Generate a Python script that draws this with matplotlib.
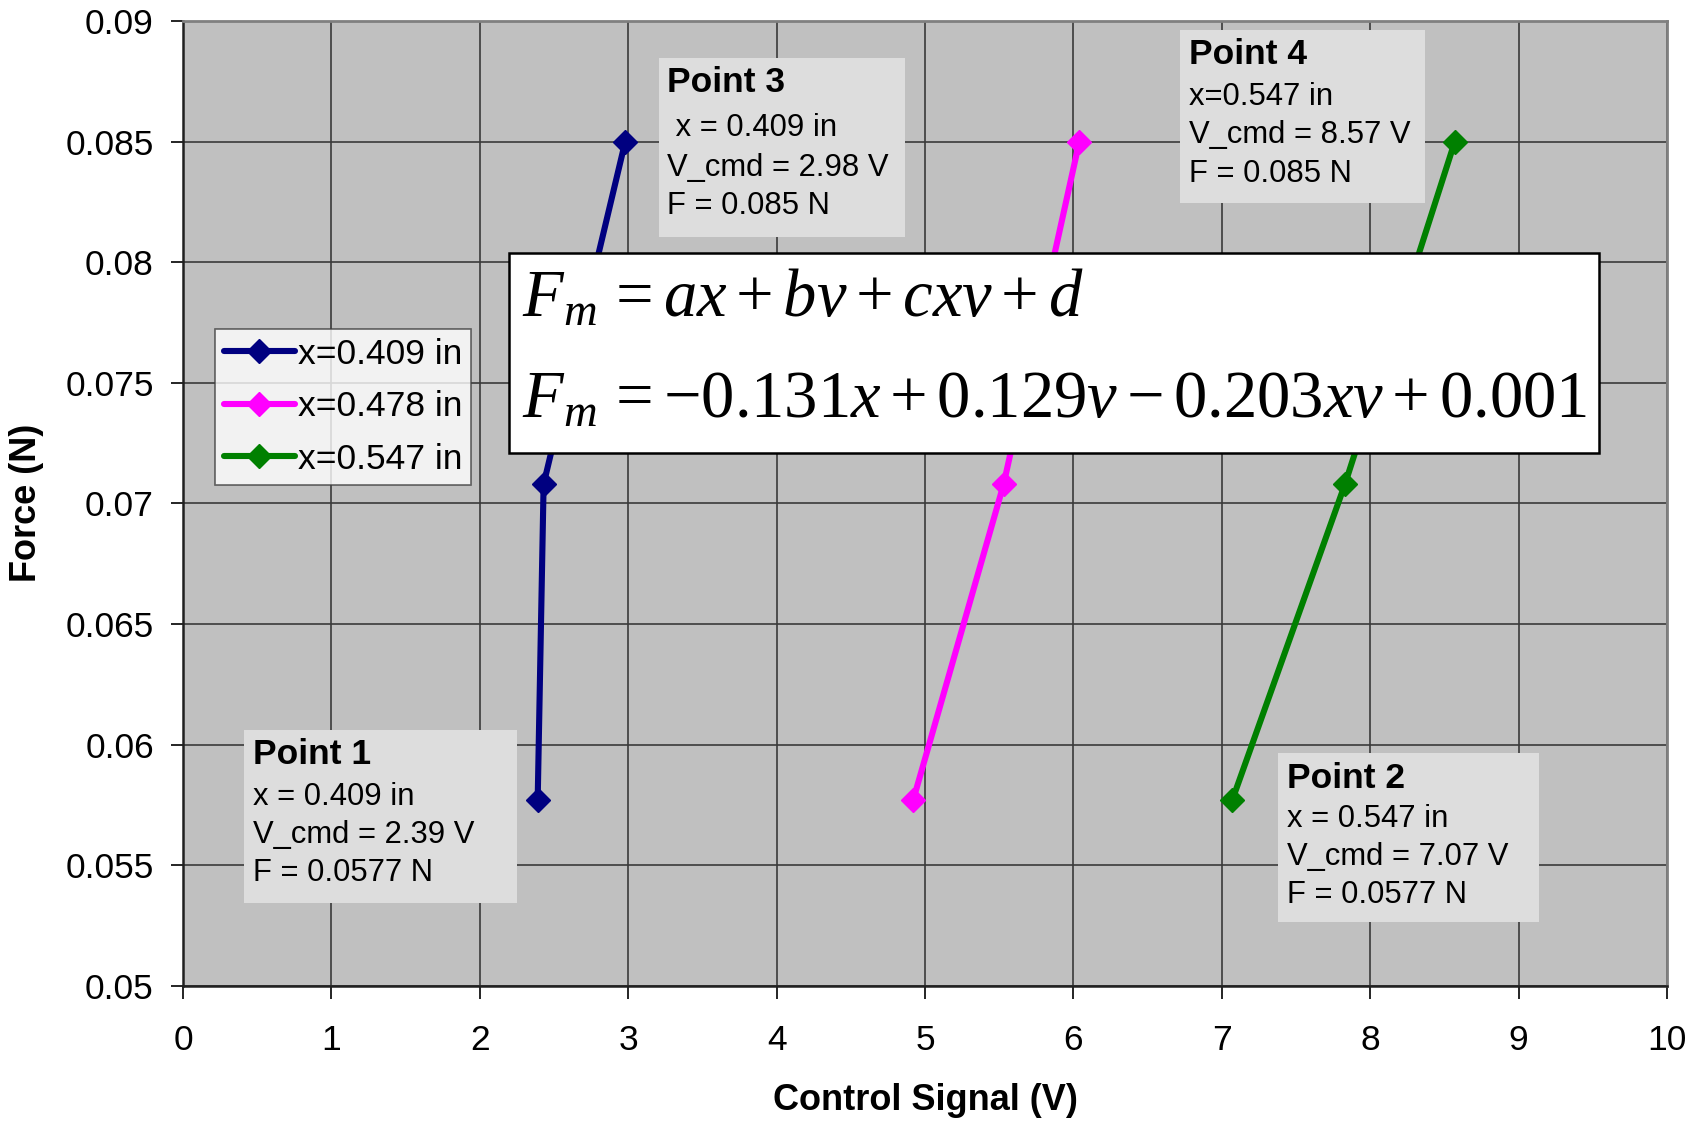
#!/usr/bin/env python3
# force vs. control signal for three plunger positions, with the fitted model

import matplotlib
matplotlib.use('Agg')
import matplotlib.pyplot as plt
from matplotlib.patches import Rectangle

plt.rcParams['font.family'] = ['Liberation Sans', 'DejaVu Sans']
plt.rcParams['mathtext.fontset'] = 'custom'
plt.rcParams['mathtext.rm'] = 'Liberation Serif'
plt.rcParams['mathtext.it'] = 'Liberation Serif:italic'

# measured points (V_cmd in volts, force in newtons)
force = [0.0577, 0.0708, 0.085]
v_409 = [2.39, 2.43, 2.98]
v_478 = [4.92, 5.53, 6.04]
v_547 = [7.07, 7.83, 8.57]
labels = ['x=0.409 in', 'x=0.478 in', 'x=0.547 in']
colors = ['#000080', '#FF00FF', '#008000']

W, H = 1704, 1121
fig = plt.figure(figsize=(W/100, H/100), dpi=100)

def fx(px):
    return px / W

def fy(py):
    return 1 - py / H

ax = fig.add_axes([fx(183), fy(986), fx(1667) - fx(183), fy(21) - fy(986)])
ax.set_facecolor('#C0C0C0')

for v, lab, c in zip([v_409, v_478, v_547], labels, colors):
    ax.plot(v, force, color=c, lw=4.4, marker='D', ms=12.5, label=lab,
            solid_joinstyle='round', solid_capstyle='round', zorder=3)

ax.set_xlim(0, 10)
ax.set_ylim(0.05, 0.09)
ax.set_xticks(range(0, 11))
ax.set_yticks([0.05 + 0.005*i for i in range(9)])
ax.set_yticklabels(['0.05', '0.055', '0.06', '0.065', '0.07', '0.075',
                    '0.08', '0.085', '0.09'])
ax.grid(True, color='#3a3a3a', lw=1.2)
ax.set_axisbelow(True)
ax.tick_params(axis='both', direction='out', length=9, width=1.2,
               labelsize=25.5, color='black')
ax.tick_params(axis='x', pad=18)
ax.tick_params(axis='y', pad=12)
for s in ['top', 'right']:
    ax.spines[s].set_color('#808080')
    ax.spines[s].set_linewidth(2)
for s in ['left', 'bottom']:
    ax.spines[s].set_color('#202020')
    ax.spines[s].set_linewidth(1.8)

fig.text(fx(27), fy(503), 'Force (N)', rotation=90, ha='center', va='center',
         fontsize=26, fontweight='bold')
fig.text(fx(925), fy(1101), 'Control Signal (V)', ha='center', va='center',
         fontsize=26, fontweight='bold')

leg = ax.legend(loc='upper left', bbox_to_anchor=(fx(215), fy(329)),
                bbox_transform=fig.transFigure, fontsize=25.5, frameon=True,
                fancybox=False, handlelength=2.0, handletextpad=0.1,
                borderpad=0.25, labelspacing=0.55, borderaxespad=0)
leg.get_frame().set_edgecolor('#404040')
leg.get_frame().set_linewidth(1.2)

# text boxes for the four corner points
notes = [
    ((659, 58, 905, 237), 667, [83, 128, 168, 206],
     ['Point 3', ' x = 0.409 in', 'V_cmd = 2.98 V', 'F = 0.085 N']),
    ((1180, 30, 1425, 203), 1189, [55, 97, 135, 174],
     ['Point 4', 'x=0.547 in', 'V_cmd = 8.57 V', 'F = 0.085 N']),
    ((244, 730, 517, 903), 253, [755, 797, 835, 873],
     ['Point 1', 'x = 0.409 in', 'V_cmd = 2.39 V', 'F = 0.0577 N']),
    ((1278, 753, 1539, 922), 1287, [778, 819, 857, 895],
     ['Point 2', 'x = 0.547 in', 'V_cmd = 7.07 V', 'F = 0.0577 N']),
]
for (x0, y0, x1, y1), tx, ys, lines in notes:
    fig.add_artist(Rectangle((fx(x0), fy(y1)), fx(x1) - fx(x0), fy(y0) - fy(y1),
                             transform=fig.transFigure, facecolor='#DDDDDD',
                             edgecolor='none', zorder=4))
    for i, (yy, t) in enumerate(zip(ys, lines)):
        fig.text(fx(tx), fy(yy), t, ha='left', va='center', zorder=5,
                 fontsize=25.5 if i == 0 else 22.3,
                 fontweight='bold' if i == 0 else 'normal')

# fitted model
fig.add_artist(Rectangle((fx(509), fy(453)), fx(1599) - fx(509), fy(253) - fy(453),
                         transform=fig.transFigure, facecolor='white',
                         edgecolor='black', lw=1.8, zorder=6))
fig.text(fx(522), fy(300), r'$F_m\, = ax + bv + cxv + d$', ha='left', va='center',
         fontsize=48, zorder=7)
fig.text(fx(522), fy(401), r'$F_m\, = -0.131x + 0.129v - 0.203xv + 0.001$',
         ha='left', va='center', fontsize=48, zorder=7)

fig.savefig('out.png', dpi=100)
